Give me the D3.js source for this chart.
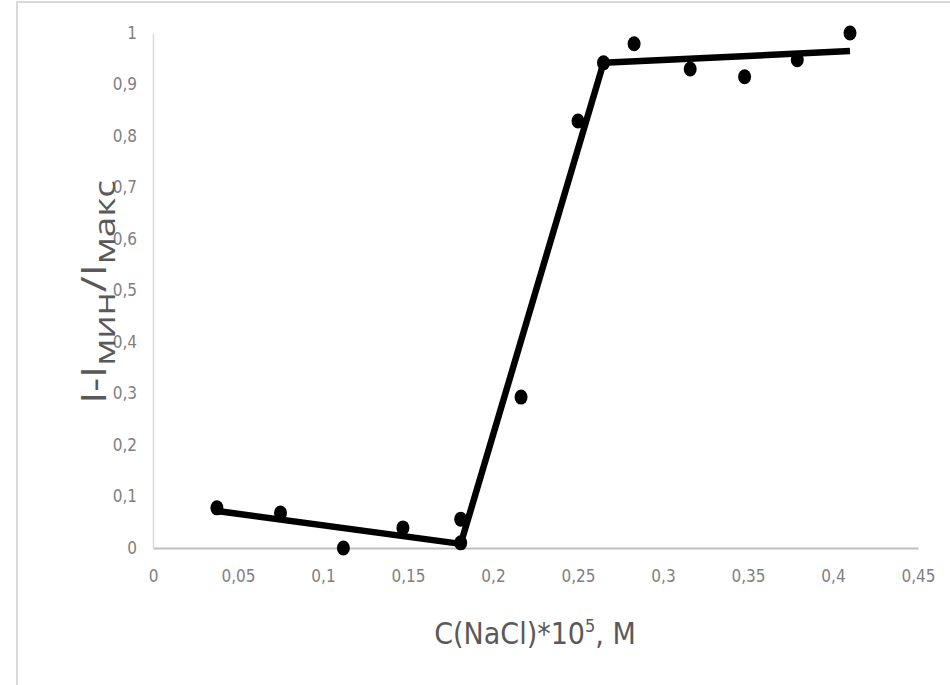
<!DOCTYPE html>
<html>
<head>
<meta charset="utf-8">
<script src="https://cdn.jsdelivr.net/npm/d3@7"></script>
<style>
  body { margin: 0; background: #fff; }
  svg { display: block; }
</style>
</head>
<body>
<svg id="chart" width="950" height="685"></svg>
<script>
// measured points
const concX = [0.0376, 0.075, 0.112, 0.147, 0.181, 0.181, 0.2165, 0.25, 0.265, 0.283, 0.316, 0.348, 0.379, 0.41];
const intensityY = [0.078, 0.068, 0.0, 0.039, 0.056, 0.01, 0.293, 0.829, 0.942, 0.979, 0.93, 0.915, 0.948, 1.0];

// fitted broken line
const fitX = [0.0376, 0.181, 0.265, 0.41];
const fitY = [0.072, 0.008, 0.942, 0.965];

const xTicks = [0, 0.05, 0.1, 0.15, 0.2, 0.25, 0.3, 0.35, 0.4, 0.45];
const yTicks = [0, 0.1, 0.2, 0.3, 0.4, 0.5, 0.6, 0.7, 0.8, 0.9, 1];

const svg = d3.select("#chart");
const tickFont = "'DejaVu Sans Condensed', 'Liberation Sans Narrow', sans-serif";

// chart frame (only top and left edges are visible)
svg.append("rect")
  .attr("x", 17).attr("y", 2)
  .attr("width", 1000).attr("height", 800)
  .attr("fill", "none")
  .attr("stroke", "#d9d9d9")
  .attr("stroke-width", 2);

const x = d3.scaleLinear().domain([0, 0.45]).range([153, 918]);
const y = d3.scaleLinear().domain([0, 1]).range([548, 33]);

const comma = d => String(d).replace(".", ",");

// x axis
const xAxis = svg.append("g")
  .attr("transform", `translate(0,${y(0)})`)
  .call(d3.axisBottom(x).tickValues(xTicks).tickSize(0).tickPadding(22).tickFormat(comma));
xAxis.select(".domain").attr("stroke", "#bfbfbf").attr("stroke-width", 2);
xAxis.selectAll("text")
  .attr("fill", "#7f7f7f")
  .style("font-family", tickFont)
  .style("font-size", "17px");

// y axis
const yAxis = svg.append("g")
  .attr("transform", `translate(${x(0)},0)`)
  .call(d3.axisLeft(y).tickValues(yTicks).tickSize(0).tickPadding(16).tickFormat(comma));
yAxis.select(".domain").attr("stroke", "#d9d9d9").attr("stroke-width", 1.5);
yAxis.selectAll("text")
  .attr("fill", "#7f7f7f")
  .style("font-family", tickFont)
  .style("font-size", "17px");

// fit line
const fitData = fitX.map((v, i) => [v, fitY[i]]);
svg.append("path")
  .datum(fitData)
  .attr("fill", "none")
  .attr("stroke", "#000")
  .attr("stroke-width", 6.5)
  .attr("stroke-linejoin", "round")
  .attr("d", d3.line().x(d => x(d[0])).y(d => y(d[1])));

// markers
svg.selectAll(".pt")
  .data(concX.map((v, i) => [v, intensityY[i]]))
  .enter().append("ellipse")
  .attr("class", "pt")
  .attr("cx", d => x(d[0]))
  .attr("cy", d => y(d[1]))
  .attr("rx", 6.5)
  .attr("ry", 7.5)
  .attr("fill", "#000");

// x axis title
const xt = svg.append("text")
  .attr("x", 535).attr("y", 644)
  .attr("text-anchor", "middle")
  .attr("fill", "#595959")
  .style("font-family", tickFont)
  .style("font-size", "30px");
xt.append("tspan").text("C(NaCl)*10");
xt.append("tspan").attr("dy", -12).style("font-size", "18px").text("5");
xt.append("tspan").attr("dy", 12).text(", M");

// y axis title (stretched along its length like the source)
const yt = svg.append("text")
  .attr("transform", "translate(106,292) rotate(-90) scale(1.27,1)")
  .attr("text-anchor", "middle")
  .attr("fill", "#595959")
  .style("font-family", "'Open Sans', sans-serif")
  .style("font-size", "34px");
yt.append("tspan").text("I-I");
yt.append("tspan").attr("dy", 9).style("font-size", "29px").text("мин");
yt.append("tspan").attr("dy", -9).text("/I");
yt.append("tspan").attr("dy", 9).style("font-size", "29px").text("макс");
</script>
</body>
</html>
